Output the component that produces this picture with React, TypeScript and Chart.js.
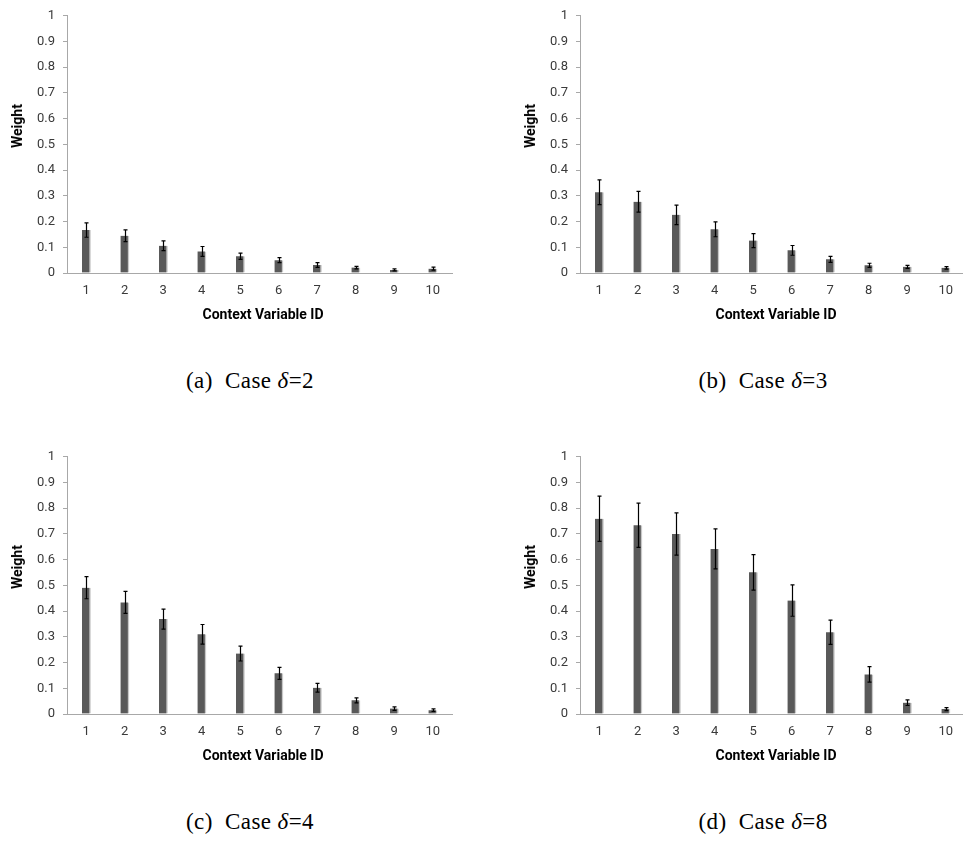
import React, { useEffect, useRef } from "react";
import { Chart, registerables } from "chart.js";

Chart.register(...registerables);

// Context variable IDs on the x axis
const CATEGORIES = ["1", "2", "3", "4", "5", "6", "7", "8", "9", "10"];

// Mean weight and error (half-length of the error bar) per context variable
const WEIGHT_D2 = [0.167, 0.145, 0.106, 0.084, 0.065, 0.05, 0.031, 0.021, 0.012, 0.017];
const ERROR_D2 = [0.028, 0.023, 0.019, 0.019, 0.012, 0.01, 0.009, 0.005, 0.004, 0.006];

const WEIGHT_D3 = [0.314, 0.277, 0.226, 0.17, 0.126, 0.088, 0.053, 0.03, 0.024, 0.02];
const ERROR_D3 = [0.048, 0.04, 0.038, 0.029, 0.027, 0.019, 0.012, 0.008, 0.006, 0.005];

const WEIGHT_D4 = [0.491, 0.434, 0.369, 0.31, 0.235, 0.158, 0.102, 0.053, 0.021, 0.015];
const ERROR_D4 = [0.043, 0.043, 0.039, 0.038, 0.029, 0.023, 0.017, 0.01, 0.007, 0.005];

const WEIGHT_D8 = [0.759, 0.734, 0.7, 0.642, 0.551, 0.441, 0.318, 0.154, 0.044, 0.019];
const ERROR_D8 = [0.088, 0.086, 0.082, 0.078, 0.069, 0.061, 0.047, 0.03, 0.011, 0.006];

const Y_TITLE = "Weight";
const X_TITLE = "Context Variable ID";

const AXIS_COLOR = "#a8a8a8";
const TICK_COLOR = "#3a3a3a";
const BAR_COLOR = "#595959";
const TICK_FONT = "Roboto, 'Liberation Sans', sans-serif";
const TITLE_FONT = "'Liberation Sans Narrow', 'Arial Narrow', Roboto, sans-serif";
const CAPTION_FONT = "'Liberation Serif', 'DejaVu Serif', serif";

const CANVAS_W = 460;
const CANVAS_H = 330;

type PanelProps = {
  weights: number[];
  errors: number[];
  left: number;
  top: number;
  tag: string;
  delta: string;
};

function Panel({ weights, errors, left, top, tag, delta }: PanelProps) {
  const canvasRef = useRef<HTMLCanvasElement | null>(null);

  useEffect(() => {
    const canvas = canvasRef.current;
    if (!canvas) return;

    // Vertical error bars with small caps, positioned through the scales
    const errorBars = {
      id: "errorBars",
      afterDatasetsDraw(chart: any) {
        const { ctx } = chart;
        const yScale = chart.scales.y;
        const meta = chart.getDatasetMeta(0);
        ctx.save();
        ctx.strokeStyle = "#000000";
        ctx.lineWidth = 1.2;
        meta.data.forEach((bar: any, i: number) => {
          const v = weights[i];
          const e = errors[i];
          const x = Math.round(bar.x) + 0.5;
          const yHi = yScale.getPixelForValue(v + e);
          const yLo = yScale.getPixelForValue(Math.max(0, v - e));
          ctx.beginPath();
          ctx.moveTo(x, yHi);
          ctx.lineTo(x, yLo);
          ctx.moveTo(x - 2, yHi);
          ctx.lineTo(x + 2, yHi);
          ctx.moveTo(x - 2, yLo);
          ctx.lineTo(x + 2, yLo);
          ctx.stroke();
        });
        ctx.restore();
      },
    };

    const chart = new Chart(canvas, {
      type: "bar",
      data: {
        labels: CATEGORIES,
        datasets: [
          {
            data: weights,
            backgroundColor: BAR_COLOR,
            borderColor: "#c8c8c8",
            borderWidth: { top: 0, left: 0, bottom: 0, right: 1.5 },
            barThickness: 8.5,
          },
        ],
      },
      options: {
        animation: false,
        responsive: false,
        events: [],
        layout: { padding: { left: 0, right: 8, top: 9.3, bottom: 7 } },
        plugins: {
          legend: { display: false },
          tooltip: { enabled: false },
        },
        scales: {
          x: {
            grid: { display: false, drawTicks: false },
            border: { display: true, color: AXIS_COLOR, width: 1 },
            ticks: {
              color: TICK_COLOR,
              font: { family: TICK_FONT, size: 13 },
              padding: 10,
            },
            afterFit(scale: any) {
              scale.height = 50;
            },
          },
          y: {
            min: 0,
            max: 1,
            ticks: {
              stepSize: 0.1,
              color: TICK_COLOR,
              font: { family: TICK_FONT, size: 13 },
              padding: 8,
              callback: (v: any) => String(Math.round(Number(v) * 10) / 10),
            },
            grid: {
              drawOnChartArea: false,
              drawTicks: true,
              tickLength: 4,
              color: AXIS_COLOR,
            },
            border: { display: true, color: AXIS_COLOR, width: 1 },
            afterFit(scale: any) {
              scale.width = 67;
            },
          },
        },
      },
      plugins: [errorBars],
    } as any);

    return () => chart.destroy();
  }, [weights, errors]);

  return (
    <>
      <canvas
        ref={canvasRef}
        width={CANVAS_W}
        height={CANVAS_H}
        style={{
          position: "absolute",
          left,
          top,
          width: CANVAS_W,
          height: CANVAS_H,
        }}
      />
      <div
        style={{
          position: "absolute",
          left: left + 16.5,
          top: top + 126,
          transform: "translate(-50%, -50%) rotate(-90deg)",
          font: `bold 14px ${TITLE_FONT}`,
          color: "#000",
          whiteSpace: "nowrap",
          lineHeight: "14px",
        }}
      >
        {Y_TITLE}
      </div>
      <div
        style={{
          position: "absolute",
          left: left + 263,
          top: top + 314,
          transform: "translate(-50%, -50%)",
          font: `bold 14px ${TITLE_FONT}`,
          color: "#000",
          whiteSpace: "nowrap",
          lineHeight: "14px",
        }}
      >
        {X_TITLE}
      </div>
      <div
        style={{
          position: "absolute",
          left: left + 250 - 150,
          top: top + 369,
          width: 300,
          textAlign: "center",
          font: `23px ${CAPTION_FONT}`,
          lineHeight: "23px",
          letterSpacing: "0.4px",
          color: "#000",
          whiteSpace: "pre",
        }}
      >
        {`(${tag})  Case `}
        <span style={{ fontStyle: "italic" }}>δ</span>
        {`=${delta}`}
      </div>
    </>
  );
}

export default function App() {
  return (
    <div
      style={{
        position: "absolute",
        left: 0,
        top: 0,
        width: 963,
        height: 842,
        overflow: "hidden",
        background: "#ffffff",
      }}
    >
      <Panel weights={WEIGHT_D2} errors={ERROR_D2} left={0} top={0} tag="a" delta="2" />
      <Panel weights={WEIGHT_D3} errors={ERROR_D3} left={513} top={0} tag="b" delta="3" />
      <Panel weights={WEIGHT_D4} errors={ERROR_D4} left={0} top={441} tag="c" delta="4" />
      <Panel weights={WEIGHT_D8} errors={ERROR_D8} left={513} top={441} tag="d" delta="8" />
    </div>
  );
}
